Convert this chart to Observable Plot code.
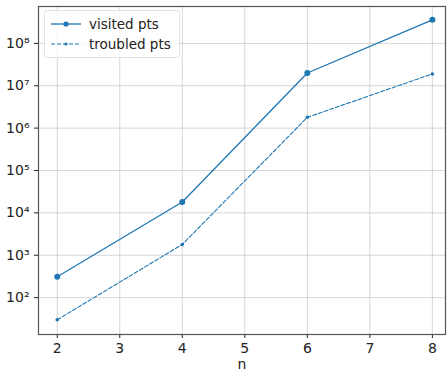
<!DOCTYPE html>
<html><head><meta charset="utf-8">
<script src="https://cdn.jsdelivr.net/npm/d3@7"></script>
<script src="https://cdn.jsdelivr.net/npm/@observablehq/plot@0.6"></script>
<style>
body{margin:0;background:#fff;font-family:"DejaVu Sans",sans-serif;}
#wrap{position:relative;width:447px;height:372px;}
#legend{position:absolute;left:44px;top:10px;border:1px solid #e2e2e2;border-radius:3px;background:rgba(255,255,255,0.8);padding:3px 8px 3px 6px;font-size:13.5px;color:#222;line-height:20px;}
#legend div{display:flex;align-items:center;gap:8px;}
</style></head><body>
<div id="wrap"></div>
<script>
const ns = [2, 4, 6, 8];
const visited = [310, 18000, 2.0e7, 3.6e8];
const troubled = [30, 1800, 1.8e6, 1.9e7];
const xTicks = [2, 3, 4, 5, 6, 7, 8];
const yTicks = [1e2, 1e3, 1e4, 1e5, 1e6, 1e7, 1e8];
const seriesNames = ["visited pts", "troubled pts"];

const sup = {"0":"⁰","1":"¹","2":"²","3":"³","4":"⁴","5":"⁵","6":"⁶","7":"⁷","8":"⁸","9":"⁹"};
const fmt = d => "10" + String(Math.round(Math.log10(d))).split("").map(c => sup[c]).join("");

const vData = ns.map((n, i) => ({n, v: visited[i]}));
const tData = ns.map((n, i) => ({n, v: troubled[i]}));
const blue = "#1f77b4";

const chart = Plot.plot({
  width: 447, height: 372,
  marginLeft: 38, marginRight: 2, marginTop: 6, marginBottom: 38,
  style: {fontFamily: "DejaVu Sans, sans-serif", fontSize: "14px", color: "#222", background: "#fff"},
  x: {domain: [1.7, 8.21], ticks: xTicks, tickFormat: d => String(d), label: "n", labelAnchor: "center", labelArrow: "none", labelOffset: 34, tickSize: 4},
  y: {type: "log", domain: [10 ** 1.13, 10 ** 8.87], ticks: yTicks, tickFormat: fmt, label: null, tickSize: 4},
  marks: [
    Plot.gridX(xTicks, {stroke: "#b0b0b0", strokeOpacity: 0.5}),
    Plot.gridY(yTicks, {stroke: "#b0b0b0", strokeOpacity: 0.5}),
    Plot.frame({stroke: "#555", strokeWidth: 1.2}),
    Plot.line(vData, {x: "n", y: "v", stroke: blue, strokeWidth: 1.3}),
    Plot.dot(vData, {x: "n", y: "v", fill: blue, r: 3}),
    Plot.line(tData, {x: "n", y: "v", stroke: blue, strokeWidth: 1.1, strokeDasharray: "4,2"}),
    Plot.dot(tData, {x: "n", y: "v", fill: blue, r: 1.8})
  ]
});
const wrap = document.getElementById("wrap");
wrap.appendChild(chart);
const leg = document.createElement("div");
leg.id = "legend";
leg.innerHTML = `
<div><svg width="30" height="10"><line x1="0" y1="5" x2="30" y2="5" stroke="${blue}" stroke-width="1.3"/><circle cx="15" cy="5" r="2.6" fill="${blue}"/></svg><span>${seriesNames[0]}</span></div>
<div><svg width="30" height="10"><line x1="0" y1="5" x2="30" y2="5" stroke="${blue}" stroke-width="1.1" stroke-dasharray="4,2"/><circle cx="15" cy="5" r="1.6" fill="${blue}"/></svg><span>${seriesNames[1]}</span></div>`;
wrap.appendChild(leg);
</script>
</body></html>
